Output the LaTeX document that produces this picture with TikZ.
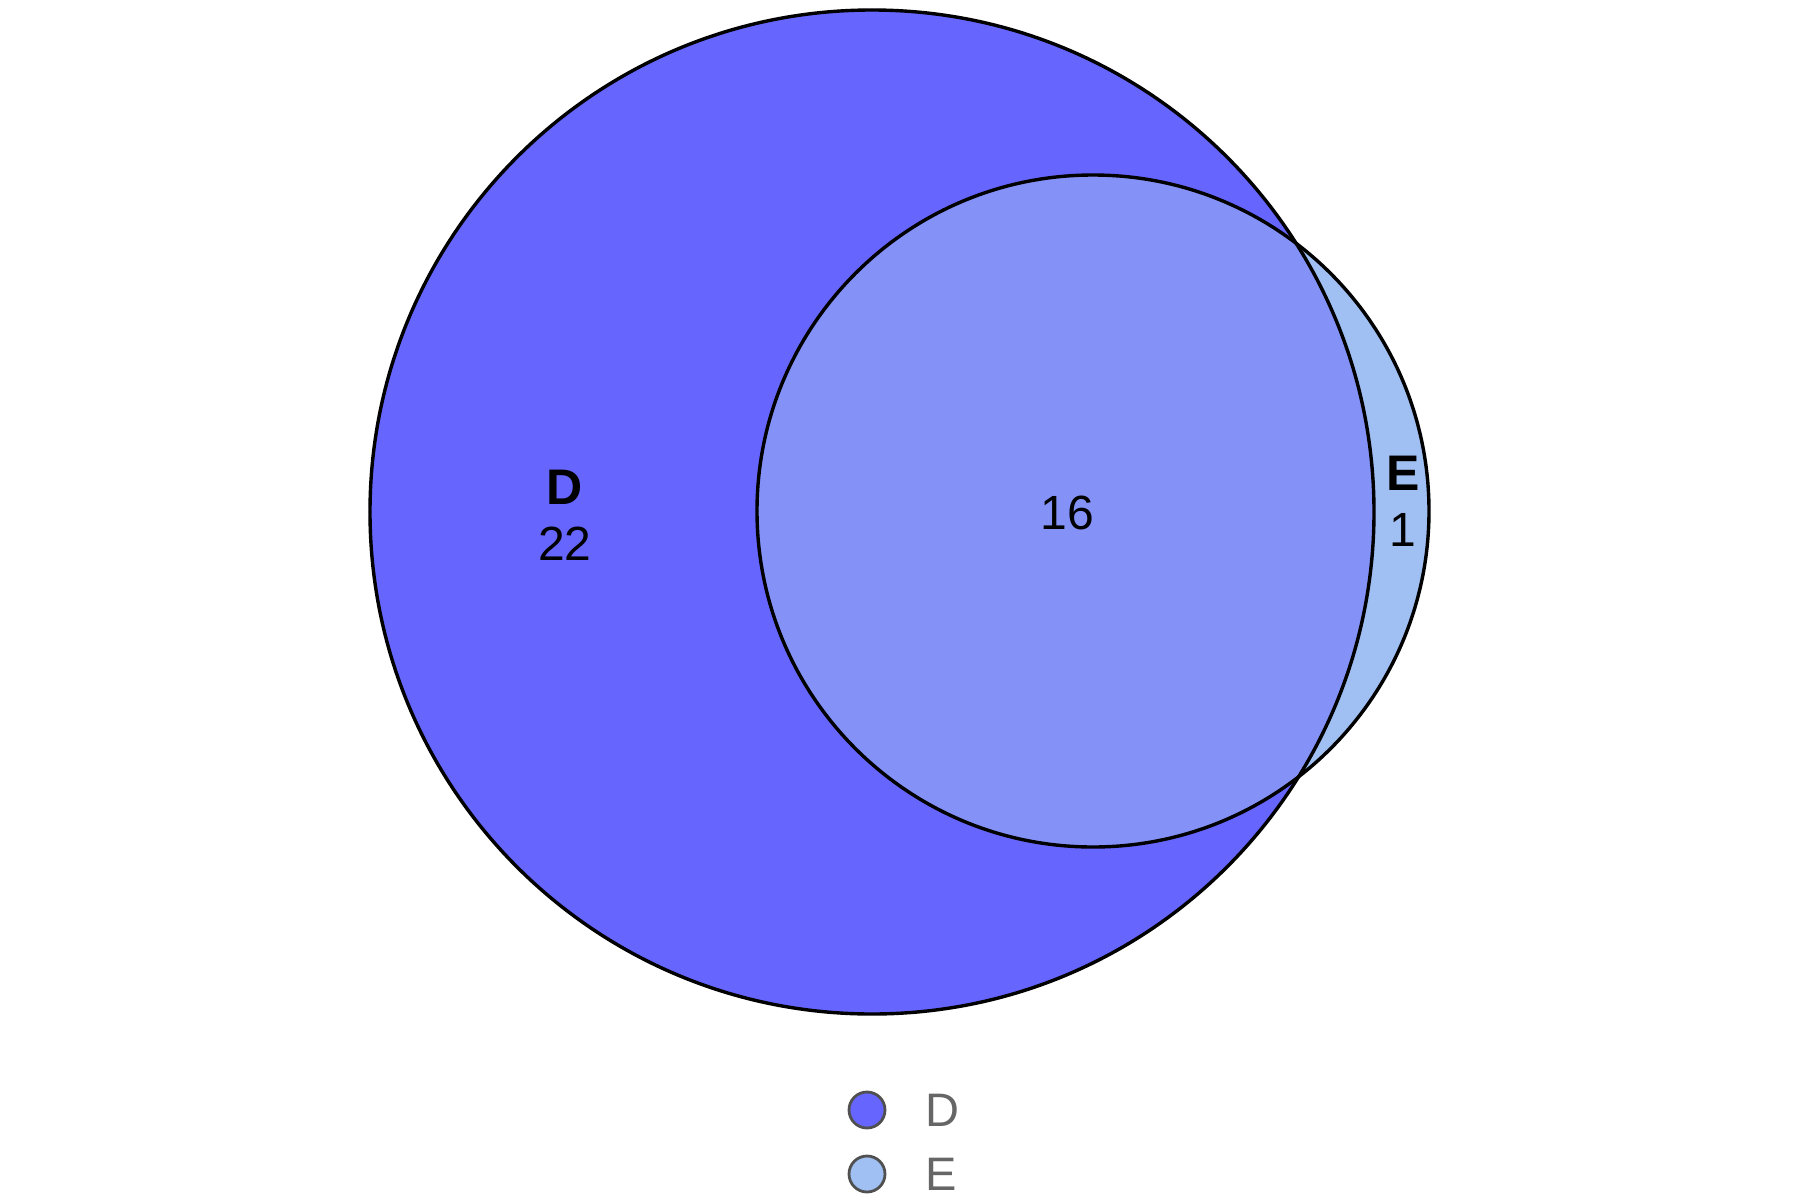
\documentclass[tikz,border=0pt]{standalone}
\usepackage{fontspec}
\setmainfont{Liberation Sans}
\definecolor{colD}{HTML}{6666FF}
\definecolor{colE}{HTML}{A0BFF2}
\definecolor{colDE}{HTML}{8492F8}
\definecolor{legtext}{HTML}{666666}
\definecolor{legline}{HTML}{505050}
\tikzset{
  setname/.style={font=\fontsize{25}{30}\selectfont\bfseries, inner sep=0pt},
  setnum/.style={font=\fontsize{24}{29}\selectfont, inner sep=0pt},
  legdot/.style={circle, draw=legline, line width=1.4pt, minimum size=18pt, inner sep=0pt},
  legtxt/.style={font=\fontsize{23.5}{28}\selectfont, text=legtext, inner sep=0pt}
}
\begin{document}
\begin{tikzpicture}
[x=0.5pt,y=-0.5pt]
\useasboundingbox (0,0) rectangle (1800,1200);
% centres of the two sets
\coordinate (cD) at (872,512);
\coordinate (cE) at (1093,511);

% fills
\fill[colD] (cD) circle[radius=251pt];
\fill[colE] (cE) circle[radius=168pt];
\begin{scope}
\clip (cD) circle[radius=251pt];
\fill[colDE] (cE) circle[radius=168pt];
\end{scope}

% outlines
\draw[line width=1.7pt] (cD) circle[radius=251pt];
\draw[line width=1.7pt] (cE) circle[radius=168pt];

% labels
\node[setname] (nD) at (565,487) {D};
\node[setnum]  (vD) at (565,544) {22};
\node[setnum]  (vDE) at (1067,513) {16};
\node[setname] (nE) at (1403,473) {E};
\node[setnum]  (vE) at (1403,530) {1};

% legend
\node[legdot,fill=colD] (kD) at (867,1110) {};
\node[legtxt,anchor=west] (tD) at (925,1110) {D};
\node[legdot,fill=colE] (kE) at (867,1174) {};
\node[legtxt,anchor=west] (tE) at (925,1174) {E};
\end{tikzpicture}
\end{document}
